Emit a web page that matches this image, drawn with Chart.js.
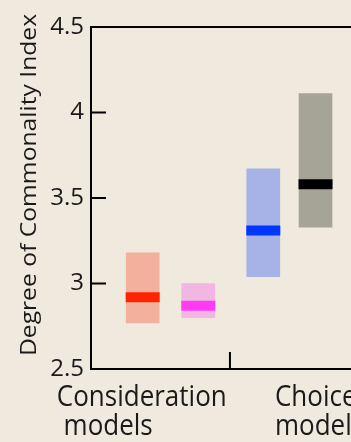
<!DOCTYPE html>
<html>
<head>
<meta charset="UTF-8"/>
<script src="https://cdn.jsdelivr.net/npm/chart.js@4.4.3/dist/chart.umd.min.js"></script>
<style>
  *{margin:0;padding:0}
  html,body{width:351px;height:442px;overflow:hidden;background:#efeadd}
  canvas{display:block}
</style>
</head>
<body>
<canvas id="c" width="422" height="442"></canvas>
<script>
// ─── Data ─────────────────────────────────────────────────────────────────────
const models     = ['Consideration A', 'Consideration B', 'Choice A', 'Choice B'];
const xPos       = [0.93, 1.93, 3.10, 4.04];
const lowVals    = [2.77, 2.80, 3.04, 3.33];
const highVals   = [3.18, 3.00, 3.67, 4.11];
const medianVals = [2.92, 2.87, 3.31, 3.58];
const boxColors  = ['#f3b09c', '#f2b6e2', '#a7b3e7', '#a6a497'];
const midColors  = ['#ff2400', '#ff3cf4', '#0036ff', '#000000'];
const groupLabels = [['Consideration', ' models'], ['Choice', 'models']];
const groupLabelX = [-0.615, 3.31];
const groupSplit  = 2.5;
const yTicks      = [2.5, 3, 3.5, 4, 4.5];
const yTitle      = 'Degree of Commonality Index';

const FONT = "'Open Sans', sans-serif";
const INK  = '#1a1a1a';

// axis frame + inward ticks + axis title + group labels
const framePlugin = {
  id: 'frame',
  afterDraw(chart) {
    const { ctx, chartArea: a, scales: { x, y } } = chart;
    ctx.save();
    ctx.strokeStyle = '#000';
    ctx.lineWidth = 2;
    ctx.beginPath();
    ctx.moveTo(a.right + 50, a.top); ctx.lineTo(a.left, a.top);
    ctx.lineTo(a.left, a.bottom); ctx.lineTo(a.right + 50, a.bottom);
    ctx.stroke();
    ctx.beginPath();
    yTicks.forEach(v => {
      const py = y.getPixelForValue(v);
      ctx.moveTo(a.left, py); ctx.lineTo(a.left + 15, py);
    });
    const sx = x.getPixelForValue(groupSplit);
    ctx.moveTo(sx, a.bottom); ctx.lineTo(sx, a.bottom - 17);
    ctx.stroke();

    ctx.fillStyle = INK;
    // y title (source picture is slightly stretched vertically)
    ctx.save();
    ctx.translate(30, 185);
    ctx.rotate(-Math.PI / 2);
    ctx.scale(1.12, 1);
    ctx.font = '22px ' + FONT;
    ctx.textAlign = 'center';
    ctx.textBaseline = 'middle';
    ctx.fillText(yTitle, 0, 0);
    ctx.restore();

    ctx.font = '26px ' + FONT;
    ctx.textAlign = 'left';
    ctx.textBaseline = 'alphabetic';
    groupLabels.forEach((lines, i) => {
      const px = x.getPixelForValue(groupLabelX[i]);
      lines.forEach((t, j) => {
        ctx.save();
        ctx.translate(px, a.bottom + 37 + j * 29);
        ctx.scale(1, 1.1);
        ctx.fillText(t, 0, 0);
        ctx.restore();
      });
    });
    ctx.restore();
  }
};

new Chart(document.getElementById('c'), {
  type: 'bar',
  data: {
    labels: models,
    datasets: [
      {
        label: 'range',
        data: xPos.map((p, i) => ({ x: p, y: [lowVals[i], highVals[i]] })),
        backgroundColor: boxColors,
        borderWidth: 0,
        barThickness: 33,
        grouped: false,
        order: 2,
      },
      {
        type: 'scatter',
        label: 'median',
        data: xPos.map((p, i) => ({ x: p, y: medianVals[i] })),
        pointStyle: 'line',
        pointRadius: 17,
        pointHoverRadius: 17,
        pointBorderWidth: 10,
        pointBorderColor: midColors,
        order: 1,
      },
    ],
  },
  options: {
    responsive: false,
    animation: false,
    layout: { padding: { top: 24, left: 0, right: 0, bottom: 0 } },
    plugins: { legend: { display: false }, tooltip: { enabled: false } },
    scales: {
      x: {
        type: 'linear', min: 0, max: 5.47, offset: false,
        grid: { display: false }, border: { display: false },
        ticks: { display: false },
        afterFit(s) { s.height = 73; },
      },
      y: {
        min: 2.5, max: 4.5,
        afterBuildTicks(s) { s.ticks = yTicks.map(v => ({ value: v })); },
        grid: { display: false, drawTicks: false }, border: { display: false },
        ticks: { color: INK, padding: 7, font: { family: FONT, size: 24 },
                 callback: v => String(v) },
        afterFit(s) { s.width = 91; },
      },
    },
  },
  plugins: [framePlugin],
});
</script>
</body>
</html>
